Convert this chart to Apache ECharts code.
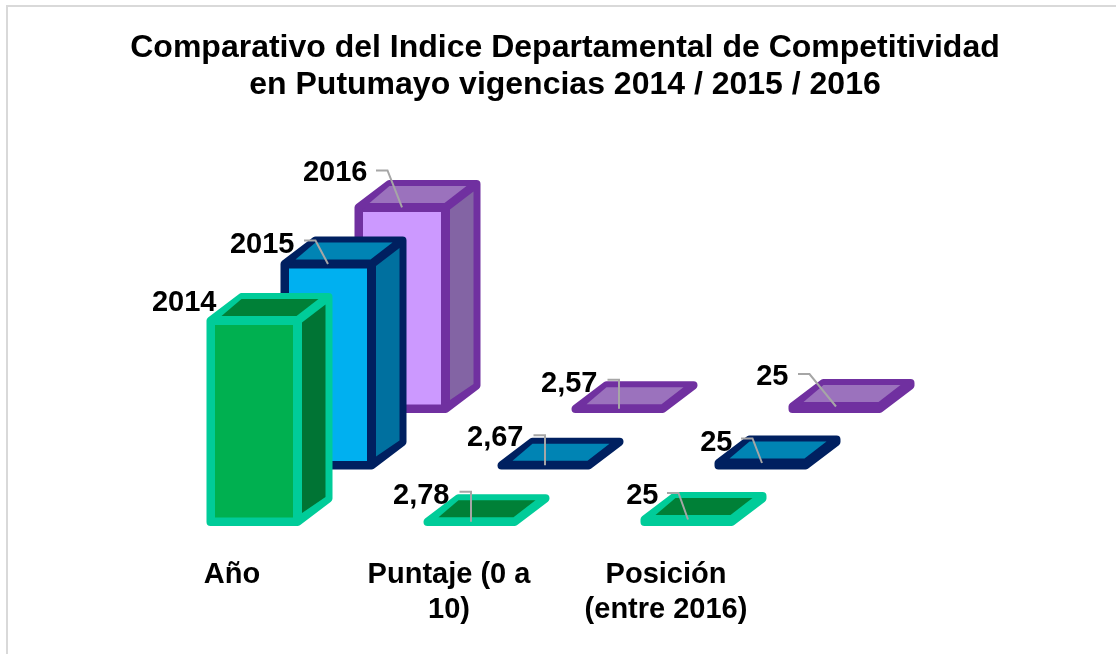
<!DOCTYPE html>
<html><head><meta charset="utf-8">
<style>html,body{margin:0;padding:0;background:#fff}#c{width:1116px;height:654px}</style>
<script src="https://cdn.jsdelivr.net/npm/echarts@6/dist/echarts.min.js"></script>
</head><body><div id="c"></div>
<script>
const categories = ['Año', 'Puntaje (0 a\n10)', 'Posición\n(entre 2016)'];
const seriesNames = ['2014', '2015', '2016'];
const values2014 = [2014, 2.78, 25];
const values2015 = [2015, 2.67, 25];
const values2016 = [2016, 2.57, 25];
const labels2014 = ['2014', '2,78', '25'];
const labels2015 = ['2015', '2,67', '25'];
const labels2016 = ['2016', '2,57', '25'];

const allValues = [values2014, values2015, values2016];
const allLabels = [labels2014, labels2015, labels2016];
const palette = [
  {edge:'#00CC99', front:'#00B050', top:'#008037', side:'#007434'},
  {edge:'#002060', front:'#00B0F0', top:'#0084B4', side:'#00709F'},
  {edge:'#7030A0', front:'#CC99FF', top:'#9B72BD', side:'#8364A4'}
];
// layout of the pseudo-3D projection, in pixels
const BAR_W = 87, SHIFT_X = 22, DEPTH = [31, -23.5], ROW = [74, -56.5];
// label placement relative to the bar's front-top centre: [text right, text y, elbow x, elbow y]; null elbow = no leader
const labelPlace = [
  [[-37.5,-17.5,null,null], [-21.5,-26,0,-30], [-29.5,-23.5,-9.5,-26.5]],
  [[-33.5,-19,-12.5,-23.5], [-21.5,-27,0,-30], [-29.5,-20.5,-9.5,-24.5]],
  [[-34.5,-34,-14.5,-37],   [-21.5,-25,0,-29], [-47.5,-29.5,-26.5,-32.5]]
];

function renderer(s){
  return function(params, api){
    const cat = api.value(0);
    const top0 = api.coord([cat, api.value(1)]);
    const base0 = api.coord([cat, 0]);
    const c = palette[s];
    const ox = SHIFT_X + ROW[0]*s, oy = ROW[1]*s;
    const xl = top0[0]+ox-BAR_W/2, xr = xl+BAR_W, yt = top0[1]+oy, yb = base0[1]+oy;
    const dx = DEPTH[0], dy = DEPTH[1];
    const base = (2-s)*10;
    const face = (pts, fill) => ({type:'polygon', z2:base+2, shape:{points:pts}, style:{fill, stroke:null}});
    const kids = [
      // outer silhouette in the edge colour, inner faces inset over it
      {type:'polygon', z2:base+1,
       shape:{points:[[xl,yt],[xl+dx,yt+dy],[xr+dx,yt+dy],[xr+dx,yb+dy],[xr,yb],[xl,yb]]},
       style:{fill:c.edge, stroke:c.edge, lineWidth:8, lineJoin:'round'}},
      face([[xl+11,yt-4.5],[xl+31,yt+dy+2],[xr+21,yt+dy+2],[xr-1,yt-4.5]], c.top)
    ];
    if (yb - yt > 30) {
      kids.push(face([[xl+4.5,yt+4.5],[xr-4.5,yt+4.5],[xr-4.5,yb-4.5],[xl+4.5,yb-4.5]], c.front));
      kids.push(face([[xr+4.5,yt+2],[xr+28,yt-16],[xr+28,yb-25],[xr+4.5,yb-9]], c.side));
    }
    const p = labelPlace[s][cat], ax = xl+BAR_W/2, ay = yt;
    if (p[2] !== null) {
      kids.push({type:'polyline', z2:100, shape:{points:[[ax+p[2]-11.5,ay+p[3]],[ax+p[2],ay+p[3]],[ax,ay]]},
        style:{fill:null, stroke:'#A6A6A6', lineWidth:2}});
    }
    kids.push({type:'text', z2:101, style:{text:allLabels[s][cat], x:ax+p[0], y:ay+p[1], align:'right', verticalAlign:'middle',
      font:'bold 29px "Liberation Sans", Arial, sans-serif', fill:'#000'}});
    return {type:'group', children:kids};
  };
}

const chart = echarts.init(document.getElementById('c'), null, {renderer:'canvas'});
chart.setOption({
  animation:false,
  backgroundColor:'#fff',
  title:{text:'Comparativo del Indice Departamental de Competitividad\nen Putumayo vigencias 2014 / 2015 / 2016',
    left:560, top:25, textAlign:'center',
    textStyle:{fontFamily:'"Liberation Sans", Arial, sans-serif', fontWeight:'bold', fontSize:32, lineHeight:37, color:'#000'}},
  graphic:[{type:'polyline', silent:true, shape:{points:[[7,654],[7,6],[1116,6]]}, style:{fill:null, stroke:'#D9D9D9', lineWidth:2}}],
  grid:{left:123.5, width:651, top:272, height:250},
  xAxis:{type:'category', data:categories, axisLine:{show:false}, axisTick:{show:false}, splitLine:{show:false},
    axisLabel:{margin:35, interval:0, fontFamily:'"Liberation Sans", Arial, sans-serif', fontWeight:'bold', fontSize:29, lineHeight:35, color:'#000'}},
  yAxis:{type:'value', min:0, max:2500, show:false, splitLine:{show:false}},
  series:seriesNames.map((n,s)=>({
    type:'custom', name:n, clip:false, coordinateSystem:'cartesian2d',
    renderItem:renderer(s), encode:{x:0,y:1},
    data:allValues[s].map((v,i)=>[i,v])
  }))
});
</script></body></html>
